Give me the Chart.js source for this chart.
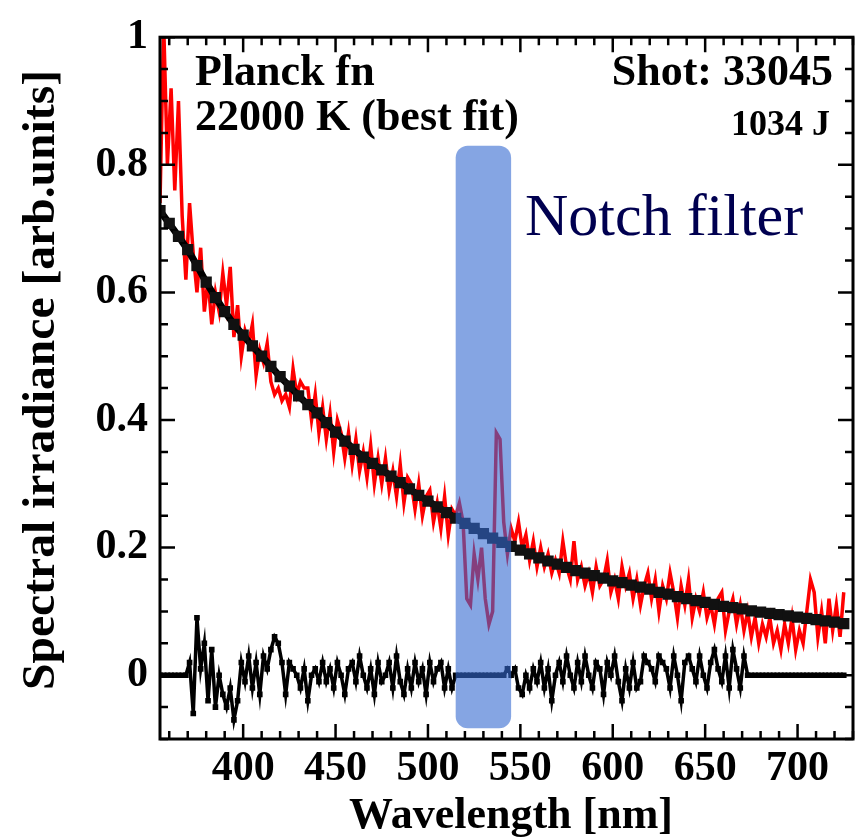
<!DOCTYPE html>
<html>
<head>
<meta charset="utf-8">
<script src="https://cdn.jsdelivr.net/npm/chart.js@4.4.0/dist/chart.umd.min.js"></script>
<style>
  html, body { margin: 0; padding: 0; background: #fff; overflow: hidden; }
  canvas { display: block; }
</style>
</head>
<body>
<canvas id="spectrum" width="864" height="839"></canvas>
<script>
// Measured spectrum, 2 nm steps from 355 nm
const redStart = 355, redStep = 2;
const redValues = [
  0.74, 1.02, 0.80, 0.92, 0.76, 0.90, 0.72, 0.62, 0.74, 0.66,
  0.60, 0.67, 0.57, 0.62, 0.55, 0.60, 0.57, 0.63, 0.58, 0.64,
  0.53, 0.58, 0.50, 0.54, 0.52, 0.55, 0.47, 0.51, 0.49, 0.52,
  0.46, 0.44, 0.45, 0.43, 0.44, 0.42, 0.48, 0.44, 0.46, 0.45,
  0.45, 0.40, 0.44, 0.38, 0.42, 0.37, 0.41, 0.35, 0.40, 0.38,
  0.34, 0.38, 0.33, 0.37, 0.32, 0.35, 0.31, 0.36, 0.30, 0.34,
  0.30, 0.34, 0.29, 0.32, 0.28, 0.33, 0.27, 0.31, 0.30, 0.26,
  0.30, 0.25, 0.28, 0.29, 0.24, 0.27, 0.23, 0.28, 0.22, 0.26,
  0.25, 0.27, 0.24, 0.12, 0.11, 0.19, 0.15, 0.20, 0.12, 0.08,
  0.10, 0.38, 0.37, 0.24, 0.19, 0.23, 0.21, 0.24, 0.20, 0.22,
  0.18, 0.21, 0.17, 0.20, 0.17, 0.19, 0.16, 0.18, 0.16, 0.21,
  0.17, 0.15, 0.21, 0.15, 0.17, 0.14, 0.16, 0.13, 0.17, 0.14,
  0.15, 0.18, 0.13, 0.15, 0.12, 0.17, 0.14, 0.16, 0.12, 0.15,
  0.11, 0.14, 0.16, 0.12, 0.15, 0.10, 0.14, 0.12, 0.16, 0.13,
  0.09, 0.14, 0.11, 0.15, 0.09, 0.12, 0.10, 0.13, 0.09, 0.11,
  0.08, 0.12, 0.13, 0.07, 0.10, 0.12, 0.08, 0.11, 0.07, 0.10,
  0.06, 0.09, 0.05, 0.08, 0.06, 0.09, 0.05, 0.07, 0.04, 0.08,
  0.05, 0.09, 0.04, 0.07, 0.05, 0.10, 0.15, 0.13, 0.06, 0.10,
  0.05, 0.12, 0.07, 0.11, 0.06, 0.13
];

// Residual (measured - fit), same wavelength grid
const residValues = [
  0, 0, 0, 0, 0, 0, 0, 0, 0.02, -0.06,
  0.09, 0.01, 0.05, -0.04, 0.04, -0.05, 0.00, -0.03, -0.05, -0.02,
  -0.07, -0.04, 0.02, -0.01, 0.03, -0.02, 0.02, -0.03, 0.03, 0.01,
  0.04, 0.06, 0.05, 0.02, -0.03, 0.02, 0.01, 0.00, -0.02, 0.01,
  -0.04, 0.00, 0.01, -0.01, 0.02, -0.01, 0.01, -0.02, 0.02, 0.00,
  -0.03, 0.01, 0.02, -0.01, 0.03, 0.00, -0.02, 0.01, -0.03, 0.02,
  -0.01, 0.00, 0.02, -0.02, 0.03, -0.01, -0.03, 0.01, -0.02, 0.02,
  -0.01, 0.01, -0.03, 0.02, -0.01, 0.01, 0.02, -0.02, 0.01, -0.02,
  0, 0, 0, 0, 0, 0, 0, 0, 0, 0,
  0, 0, 0, 0, 0.01, 0, 0.01, -0.02, -0.03, 0.00,
  -0.02, 0.01, -0.01, 0.02, -0.02, 0.01, -0.04, 0.00, 0.02, -0.01,
  0.03, 0.00, -0.02, 0.02, -0.01, 0.03, 0.00, -0.02, 0.02, 0.01,
  -0.03, 0.02, 0.00, 0.03, -0.01, -0.04, 0.01, -0.02, 0.02, -0.02,
  -0.01, 0.03, 0.02, 0.01, -0.01, 0.03, 0.02, 0.01, -0.02, 0.03,
  0.00, -0.04, 0.02, 0.03, 0.01, -0.01, 0.03, 0.00, -0.02, 0.02,
  0.04, 0.01, -0.01, 0.03, -0.02, 0.04, 0.01, -0.02, 0.03, 0,
  0, 0, 0, 0, 0, 0, 0, 0, 0, 0,
  0, 0, 0, 0, 0, 0, 0, 0, 0, 0,
  0, 0, 0, 0, 0, 0
];

// Planck fit 22000 K, 5 nm steps from 355 nm
const fitStart = 355, fitStep = 5;
const fitValues = [
  0.728, 0.708, 0.688, 0.667, 0.642, 0.616, 0.592, 0.570, 0.550, 0.533,
  0.516, 0.500, 0.484, 0.468, 0.453, 0.438, 0.424, 0.411, 0.396, 0.381,
  0.367, 0.354, 0.342, 0.332, 0.322, 0.312, 0.302, 0.292, 0.282, 0.273,
  0.264, 0.255, 0.246, 0.238, 0.230, 0.222, 0.215, 0.208, 0.202, 0.196,
  0.190, 0.184, 0.179, 0.174, 0.169, 0.164, 0.160, 0.156, 0.152, 0.148,
  0.145, 0.141, 0.138, 0.135, 0.130, 0.127, 0.123, 0.120, 0.117, 0.114,
  0.111, 0.108, 0.106, 0.104, 0.101, 0.099, 0.097, 0.095, 0.093, 0.091,
  0.089, 0.087, 0.085, 0.083, 0.081
];

const xTickValues = [400, 450, 500, 550, 600, 650, 700];
const yTickValues = [0, 0.2, 0.4, 0.6, 0.8, 1];
const notchBand = [515, 545];        // nm
const notchLevels = [-0.083, 0.83];  // bottom / top of the shaded band

const FONT = '"Liberation Serif", "Times New Roman", serif';

const toPoints = (vals, start, step) => vals.map((v, i) => ({ x: start + step * i, y: v }));

// notch band, frame and inward ticks
const frameTicks = {
  id: 'frameTicks',
  afterDatasetsDraw(chart) {
    const { ctx, chartArea: a, scales: { x, y } } = chart;
    ctx.save();

    const bx0 = x.getPixelForValue(notchBand[0]);
    const bx1 = x.getPixelForValue(notchBand[1]);
    const by0 = y.getPixelForValue(notchLevels[1]);
    const by1 = y.getPixelForValue(notchLevels[0]);
    ctx.fillStyle = 'rgba(52, 105, 208, 0.6)';
    ctx.beginPath();
    ctx.roundRect(bx0, by0, bx1 - bx0, by1 - by0, 12);
    ctx.fill();

    ctx.strokeStyle = '#000';
    ctx.lineWidth = 3;
    ctx.strokeRect(a.left, a.top, a.right - a.left, a.bottom - a.top);

    ctx.lineWidth = 2.5;
    ctx.beginPath();
    for (let v = 360; v <= 730; v += 10) {
      const px = x.getPixelForValue(v);
      const len = v % 50 === 0 ? 15 : 8;
      ctx.moveTo(px, a.bottom); ctx.lineTo(px, a.bottom - len);
      ctx.moveTo(px, a.top); ctx.lineTo(px, a.top + len);
    }
    for (let k = -2; k <= 20; k++) {
      const py = y.getPixelForValue(k * 0.05);
      const len = k % 4 === 0 ? 15 : 8;
      ctx.moveTo(a.left, py); ctx.lineTo(a.left + len, py);
      ctx.moveTo(a.right, py); ctx.lineTo(a.right - len, py);
    }
    ctx.stroke();
    ctx.restore();
  }
};

// annotations and axis titles
const labels = {
  id: 'labels',
  afterDraw(chart) {
    const { ctx } = chart;
    ctx.save();
    ctx.fillStyle = '#000';
    ctx.textBaseline = 'alphabetic';

    ctx.font = 'bold 44px ' + FONT;
    ctx.textAlign = 'left';
    ctx.fillText('Planck fn', 195, 85);
    ctx.fillText('22000 K (best fit)', 195, 130);
    ctx.textAlign = 'right';
    ctx.fillText('Shot: 33045', 833, 85);
    ctx.font = 'bold 36px ' + FONT;
    ctx.fillText('1034 J', 830, 135);

    ctx.font = '60px ' + FONT;
    ctx.fillStyle = '#000050';
    ctx.textAlign = 'left';
    ctx.fillText('Notch filter', 525, 235);

    ctx.fillStyle = '#000';
    ctx.font = 'bold 44px ' + FONT;
    ctx.textAlign = 'center';
    ctx.fillText('Wavelength [nm]', 511, 828);

    const yTitle = 'Spectral irradiance [arb.units]';
    ctx.font = 'bold 46px ' + FONT;
    const w = ctx.measureText(yTitle).width;
    ctx.translate(54, 380);
    ctx.rotate(-Math.PI / 2);
    ctx.scale(620 / w, 1);
    ctx.fillText(yTitle, 0, 0);
    ctx.restore();
  }
};

new Chart(document.getElementById('spectrum'), {
  type: 'line',
  data: {
    datasets: [
      {
        label: 'Planck fit',
        data: toPoints(fitValues, fitStart, fitStep),
        borderColor: '#000',
        borderWidth: 7,
        pointStyle: 'rect',
        pointRadius: 3,
        pointBackgroundColor: '#000',
        pointBorderColor: '#111',
        tension: 0
      },
      {
        label: 'Residual',
        data: toPoints(residValues, redStart, redStep),
        borderColor: '#000',
        borderWidth: 3.5,
        pointStyle: 'rect',
        pointRadius: 1.5,
        pointBackgroundColor: '#000',
        pointBorderColor: '#000',
        tension: 0
      },
      {
        label: 'Measured',
        data: toPoints(redValues, redStart, redStep),
        borderColor: '#ff0000',
        borderWidth: 3.5,
        pointRadius: 0,
        tension: 0
      }
    ]
  },
  options: {
    responsive: false,
    animation: false,
    events: [],
    layout: { padding: { top: 35, right: 2, left: 0, bottom: 0 } },
    plugins: { legend: { display: false }, tooltip: { enabled: false } },
    scales: {
      x: {
        type: 'linear',
        min: 355,
        max: 730,
        grid: { display: false, drawTicks: false },
        border: { display: false },
        afterBuildTicks: s => { s.ticks = xTickValues.map(v => ({ value: v })); },
        afterFit: s => { s.height = 100; },
        ticks: {
          autoSkip: false,
          maxRotation: 0,
          padding: 5,
          color: '#000',
          font: { family: FONT, size: 42, weight: 'bold' },
          callback: v => String(v)
        }
      },
      y: {
        min: -0.1,
        max: 1.0,
        grid: { display: false, drawTicks: false },
        border: { display: false },
        afterBuildTicks: s => { s.ticks = yTickValues.map(v => ({ value: v })); },
        afterFit: s => { s.width = 160; },
        ticks: {
          padding: 12,
          color: '#000',
          font: { family: FONT, size: 42, weight: 'bold' },
          callback: v => (v === 0 || v === 1) ? String(v) : v.toFixed(1)
        }
      }
    }
  },
  plugins: [frameTicks, labels]
});
</script>
</body>
</html>
